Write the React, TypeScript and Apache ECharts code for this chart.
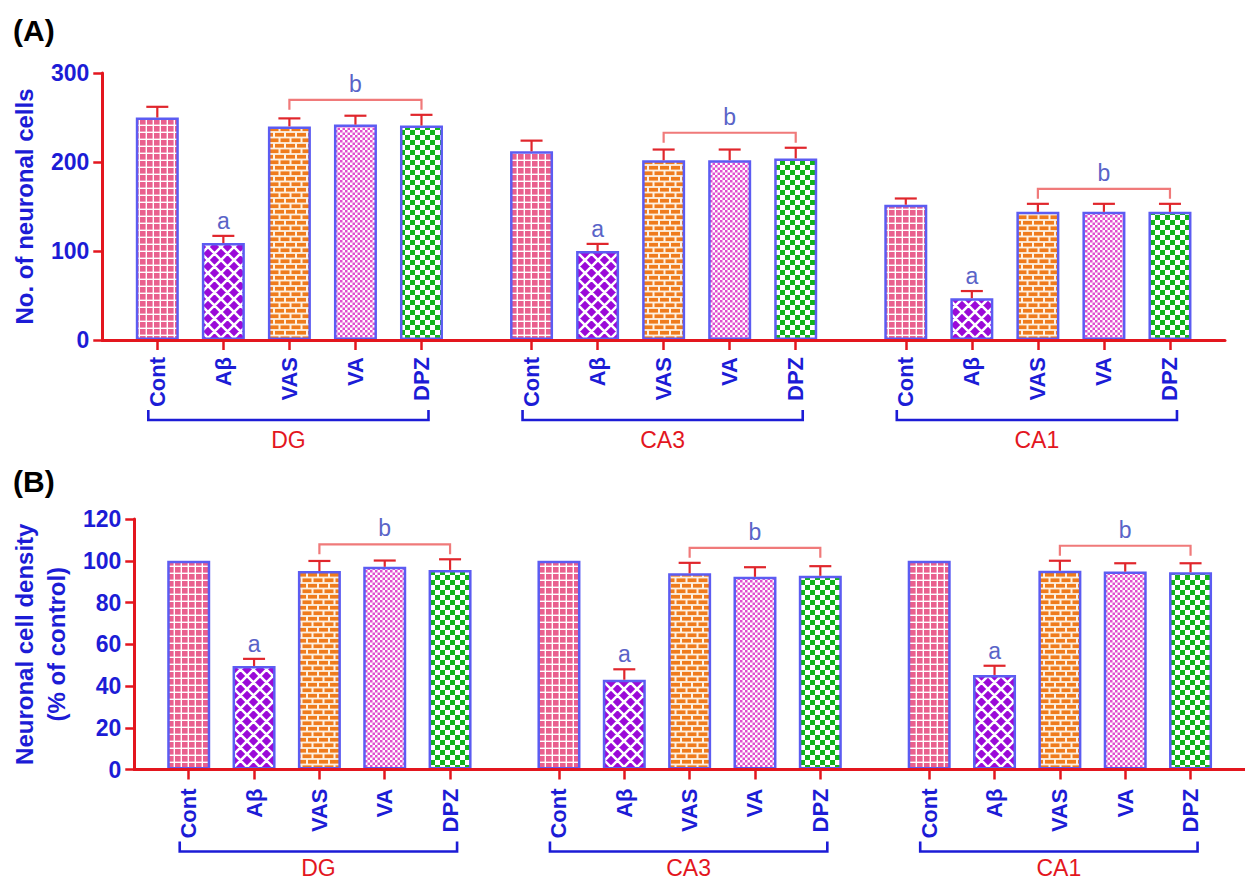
import React, { useEffect, useRef } from "react";
import * as echarts from "echarts";

// ---------------- data ----------------
const regions = ["DG", "CA3", "CA1"];
const treatments = ["Cont", "Aβ", "VAS", "VA", "DPZ"];

// Panel A: No. of neuronal cells (mean and SEM), treatment order as above
const cellsDG = [250, 109, 240, 242, 241];
const cellsDGErr = [12, 8, 9, 10, 12];
const cellsCA3 = [212, 100, 202, 202, 204];
const cellsCA3Err = [12, 8, 12, 12, 12];
const cellsCA1 = [152, 47, 144, 144, 144];
const cellsCA1Err = [7, 8, 9, 9, 9];

// Panel B: Neuronal cell density (% of control)
const densityDG = [100, 49.6, 95.1, 97.1, 95.6];
const densityDGErr = [0, 3.4, 4.8, 3, 5.1];
const densityCA3 = [100, 43, 94, 92.3, 92.8];
const densityCA3Err = [0, 5, 5, 4.6, 4.6];
const densityCA1 = [100, 45.3, 95.2, 94.8, 94.5];
const densityCA1Err = [0, 4.4, 4.8, 4, 4.3];

const cellTicks = [0, 100, 200, 300];
const densityTicks = [0, 20, 40, 60, 80, 100, 120];

// significance marks: letter over one bar, bracketed letter over a range
const letterA = { text: "a", bar: 1 };
const letterB = { text: "b", from: 2, to: 4 };

// ---------------- layout / style ----------------
const FONT = "'Liberation Sans', Arial, Helvetica, sans-serif";
const BLUE = "#1c1cd6";
const RED = "#e3161e";
const ERR = "#e0262c";
const MARK = "#5a64c8";
const BRACKET = "#f07a7a";
const BORDER = "#5c5cf2";

const LEAD = 2;
const SLOT = 3;
const GROUP = 17;
const NCAT = 51;
const catIndex = (g: number, t: number) => LEAD + g * GROUP + t * SLOT;
const categories = Array.from({ length: NCAT }, (_, k) => "c" + k);
const labelAt: Record<number, string> = {};
regions.forEach((_, g) => treatments.forEach((t, i) => (labelAt[catIndex(g, i)] = t)));
const isTick = (i: number) => labelAt[i] !== undefined;

const svgUrl = (w: number, h: number, body: string) =>
  "data:image/svg+xml;charset=utf-8," +
  encodeURIComponent(
    `<svg xmlns="http://www.w3.org/2000/svg" width="${w}" height="${h}" viewBox="0 0 ${w} ${h}">${body}</svg>`
  );
const pattern = (w: number, h: number, body: string) => ({
  image: svgUrl(w, h, body),
  repeat: "repeat",
  imageWidth: w,
  imageHeight: h,
});

const patterns = [
  // Cont: pink with white grid
  pattern(7, 7, `<rect width="7" height="7" fill="#ffffff"/><rect width="5.6" height="5.6" fill="#e9608e"/>`),
  // Abeta: purple diamonds with white lattice
  pattern(
    13,
    13,
    `<rect width="13" height="13" fill="#9b0ad8"/><path d="M-13 -13L26 26M0 -13L26 13M-13 0L13 26M-13 13L13 -13M-13 26L26 -13M0 26L26 0" stroke="#ffffff" stroke-width="2.6" fill="none"/>`
  ),
  // VAS: orange bricks
  pattern(
    11,
    11,
    `<rect width="11" height="11" fill="#fdf1e2"/><rect x="0" y="0.9" width="9" height="3.7" fill="#ef7b1c"/><rect x="-5.5" y="6.4" width="9" height="3.7" fill="#ef7b1c"/><rect x="5.5" y="6.4" width="9" height="3.7" fill="#ef7b1c"/>`
  ),
  // VA: fine magenta checker
  pattern(
    5,
    5,
    `<rect width="5" height="5" fill="#ffffff"/><rect width="2.5" height="2.5" fill="#e04fce"/><rect x="2.5" y="2.5" width="2.5" height="2.5" fill="#e04fce"/>`
  ),
  // DPZ: green checker
  pattern(
    10,
    10,
    `<rect width="10" height="10" fill="#ffffff"/><rect width="5" height="5" fill="#12b41c"/><rect x="5" y="5" width="5" height="5" fill="#12b41c"/>`
  ),
];

type Panel = {
  means: number[][];
  errs: number[][];
  ticks: number[];
  name: string;
  nameGap: number;
  labelMargin: number;
  bracketDrop: number;
  regionGap: number;
};

const panels: Panel[] = [
  {
    means: [cellsDG, cellsCA3, cellsCA1],
    errs: [cellsDGErr, cellsCA3Err, cellsCA1Err],
    ticks: cellTicks,
    name: "No. of neuronal cells",
    nameGap: 62,
    labelMargin: 17,
    bracketDrop: 80,
    regionGap: 20,
  },
  {
    means: [densityDG, densityCA3, densityCA1],
    errs: [densityDGErr, densityCA3Err, densityCA1Err],
    ticks: densityTicks,
    name: "Neuronal cell density\n(% of control)",
    nameGap: 58,
    labelMargin: 19,
    bracketDrop: 82,
    regionGap: 16,
  },
];

const grids = [
  { left: 99, right: 20, top: 73, bottom: 541 },
  { left: 129, right: -10, top: 519, bottom: 111.5 },
];

function buildOption() {
  const xAxis: any[] = [];
  const yAxis: any[] = [];
  const series: any[] = [];

  panels.forEach((p, k) => {
    xAxis.push({
      gridIndex: k,
      type: "category",
      data: categories,
      boundaryGap: true,
      z: 10,
      axisLine: { show: true, lineStyle: { color: RED, width: 3 } },
      axisTick: {
        show: true,
        alignWithLabel: true,
        interval: (i: number) => isTick(i),
        length: 10,
        lineStyle: { color: RED, width: 2.5 },
      },
      axisLabel: {
        interval: (i: number) => isTick(i),
        rotate: 90,
        formatter: (_v: string, i: number) => labelAt[i] || "",
        color: BLUE,
        fontWeight: "bold",
        fontSize: 22,
        fontFamily: FONT,
        margin: p.labelMargin,
      },
      splitLine: { show: false },
    });
    const tk = p.ticks;
    yAxis.push({
      gridIndex: k,
      type: "value",
      min: tk[0],
      max: tk[tk.length - 1],
      interval: tk[1] - tk[0],
      name: p.name,
      nameLocation: "middle",
      nameGap: p.nameGap,
      nameTextStyle: {
        color: BLUE,
        fontWeight: "bold",
        fontSize: 24,
        fontFamily: FONT,
        lineHeight: 32,
        align: "center",
      },
      axisLine: { show: true, lineStyle: { color: RED, width: 3 } },
      axisTick: { show: true, length: 9, lineStyle: { color: RED, width: 2.5 } },
      axisLabel: {
        color: BLUE,
        fontWeight: "bold",
        fontSize: 23,
        fontFamily: FONT,
        margin: 13,
      },
      splitLine: { show: false },
    });

    // bars, one series per treatment
    treatments.forEach((t, i) => {
      series.push({
        type: "bar",
        name: t,
        xAxisIndex: k,
        yAxisIndex: k,
        barWidth: 43,
        barGap: "-100%",
        z: 2,
        itemStyle: { color: patterns[i], borderColor: BORDER, borderWidth: 2.5 },
        data: regions.map((_, g) => [catIndex(g, i), p.means[g][i]]),
      });
    });

    // error bars
    const errData: number[][] = [];
    regions.forEach((_, g) =>
      treatments.forEach((_, i) => errData.push([catIndex(g, i), p.means[g][i], p.errs[g][i]]))
    );
    series.push({
      type: "custom",
      xAxisIndex: k,
      yAxisIndex: k,
      z: 4,
      encode: { x: 0, y: 1 },
      data: errData,
      renderItem: (_params: any, api: any) => {
        const x = api.value(0);
        const m = api.value(1);
        const e = api.value(2);
        if (!e) return null;
        const p0 = api.coord([x, m]);
        const p1 = api.coord([x, m + e]);
        const st = { stroke: ERR, lineWidth: 2.2 };
        return {
          type: "group",
          children: [
            { type: "line", shape: { x1: p0[0], y1: p0[1], x2: p1[0], y2: p1[1] }, style: st },
            { type: "line", shape: { x1: p1[0] - 11, y1: p1[1], x2: p1[0] + 11, y2: p1[1] }, style: st },
          ],
        };
      },
    });

    // letter "a" over single bar
    series.push({
      type: "custom",
      xAxisIndex: k,
      yAxisIndex: k,
      z: 5,
      encode: { x: 0, y: 1 },
      data: regions.map((_, g) => [
        catIndex(g, letterA.bar),
        p.means[g][letterA.bar] + p.errs[g][letterA.bar],
      ]),
      renderItem: (_params: any, api: any) => {
        const pt = api.coord([api.value(0), api.value(1)]);
        return {
          type: "text",
          style: {
            text: letterA.text,
            x: pt[0],
            y: pt[1] - 15,
            fill: MARK,
            fontSize: 23,
            fontFamily: FONT,
            align: "center",
            verticalAlign: "middle",
          },
        };
      },
    });

    // bracket "b" over a range of bars
    series.push({
      type: "custom",
      xAxisIndex: k,
      yAxisIndex: k,
      z: 5,
      encode: { x: [0, 1], y: 2 },
      data: regions.map((_, g) => {
        let top = 0;
        for (let i = letterB.from; i <= letterB.to; i++) top = Math.max(top, p.means[g][i] + p.errs[g][i]);
        return [catIndex(g, letterB.from), catIndex(g, letterB.to), top];
      }),
      renderItem: (_params: any, api: any) => {
        const a = api.coord([api.value(0), api.value(2)]);
        const b = api.coord([api.value(1), api.value(2)]);
        const yEnd = a[1] - 5;
        const yLine = a[1] - 15;
        return {
          type: "group",
          children: [
            {
              type: "polyline",
              shape: { points: [[a[0], yEnd], [a[0], yLine], [b[0], yLine], [b[0], yEnd]] },
              style: { stroke: BRACKET, lineWidth: 2.2, fill: null },
            },
            {
              type: "text",
              style: {
                text: letterB.text,
                x: (a[0] + b[0]) / 2,
                y: yLine - 16,
                fill: MARK,
                fontSize: 23,
                fontFamily: FONT,
                align: "center",
                verticalAlign: "middle",
              },
            },
          ],
        };
      },
    });

    // region brackets under the axis
    series.push({
      type: "custom",
      xAxisIndex: k,
      yAxisIndex: k,
      z: 5,
      encode: { x: [0, 1], y: 2 },
      data: regions.map((_, g) => [catIndex(g, 0), catIndex(g, treatments.length - 1), 0]),
      renderItem: (params: any, api: any) => {
        const a = api.coord([api.value(0), 0]);
        const b = api.coord([api.value(1), 0]);
        const yB = a[1] + p.bracketDrop;
        const x0 = a[0] - 9;
        const x1 = b[0] + 7;
        return {
          type: "group",
          children: [
            {
              type: "polyline",
              shape: { points: [[x0, yB - 10], [x0, yB], [x1, yB], [x1, yB - 10]] },
              style: { stroke: BLUE, lineWidth: 2.6, fill: null },
            },
            {
              type: "text",
              style: {
                text: regions[params.dataIndex],
                x: (x0 + x1) / 2,
                y: yB + p.regionGap,
                fill: RED,
                fontSize: 23,
                fontFamily: FONT,
                align: "center",
                verticalAlign: "middle",
              },
            },
          ],
        };
      },
    });
  });

  return {
    animation: false,
    backgroundColor: "#ffffff",
    grid: grids,
    xAxis,
    yAxis,
    series,
    graphic: [
      {
        type: "text",
        left: 13,
        top: 15,
        style: { text: "(A)", fill: "#000", fontSize: 30, fontWeight: "bold", fontFamily: FONT },
      },
      {
        type: "text",
        left: 13,
        top: 466,
        style: { text: "(B)", fill: "#000", fontSize: 30, fontWeight: "bold", fontFamily: FONT },
      },
    ],
  };
}

export default function App() {
  const ref = useRef<HTMLDivElement>(null);
  useEffect(() => {
    if (!ref.current) return;
    const chart = echarts.init(ref.current, null, { renderer: "svg" });
    chart.setOption(buildOption() as any);
    return () => chart.dispose();
  }, []);
  return (
    <div
      ref={ref}
      style={{ position: "absolute", left: 0, top: 0, width: 1245, height: 881, background: "#fff" }}
    />
  );
}
